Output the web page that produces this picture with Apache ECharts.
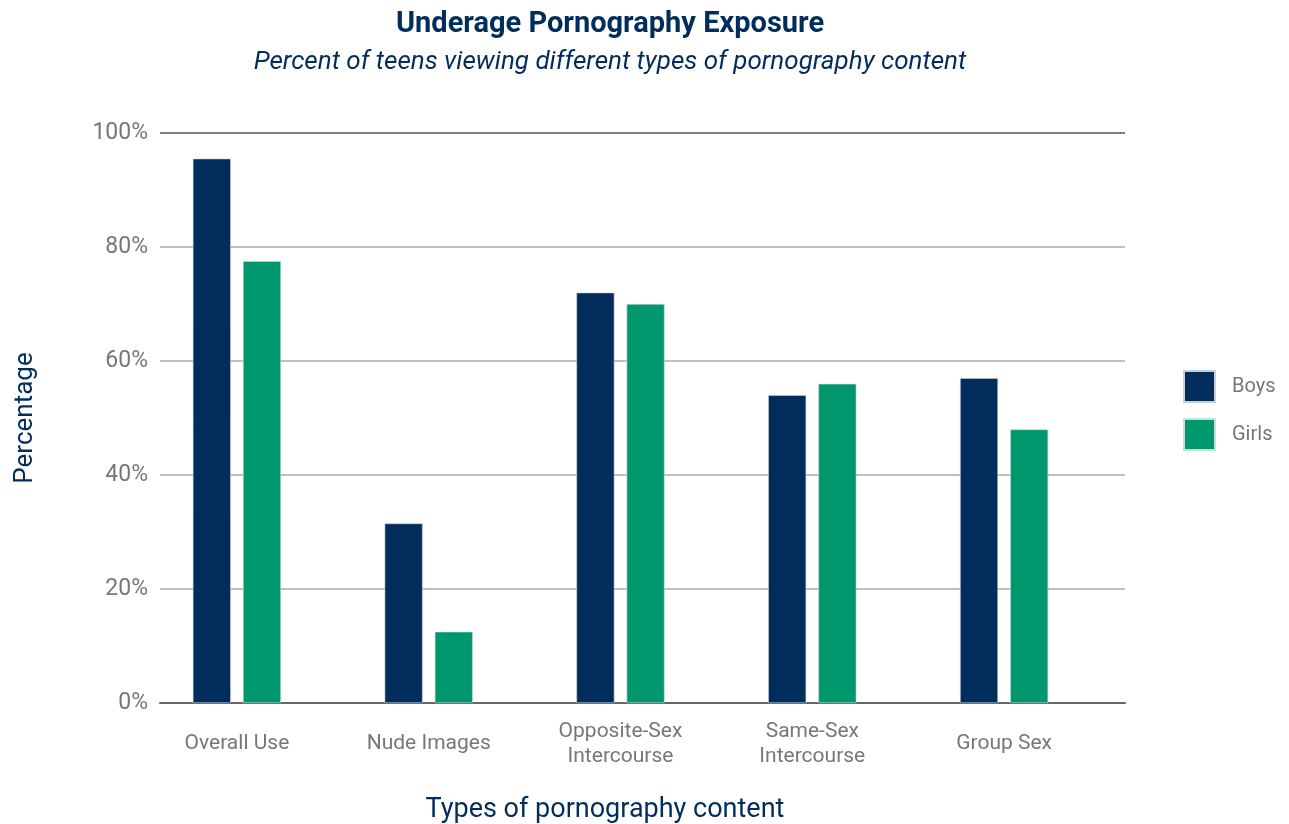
<!DOCTYPE html>
<html>
<head>
<meta charset="utf-8">
<script src="https://cdn.jsdelivr.net/npm/echarts@6/dist/echarts.min.js"></script>
<style>
  html, body { margin: 0; padding: 0; background: #fff; }
  #chart { width: 1289px; height: 824px; }
</style>
</head>
<body>
<div id="chart"></div>
<script>
// data
var categories = ['Overall Use', 'Nude Images', 'Opposite-Sex\nIntercourse', 'Same-Sex\nIntercourse', 'Group Sex'];
var boys = [95.5, 31.5, 72, 54, 57];
var girls = [77.5, 12.5, 70, 56, 48];
var yTicks = [0, 20, 40, 60, 80, 100];

var navy = '#002d5c';
var green = '#00976f';

var chart = echarts.init(document.getElementById('chart'));

chart.setOption({
  animation: false,
  textStyle: { fontFamily: 'Roboto, "Noto Sans", sans-serif' },
  title: {
    text: 'Underage Pornography Exposure',
    subtext: 'Percent of teens viewing different types of pornography content',
    left: 605,
    textAlign: 'center',
    top: 5,
    itemGap: 10,
    textStyle: { color: navy, fontSize: 29, fontWeight: 'bold' },
    subtextStyle: { color: navy, fontSize: 26, fontStyle: 'italic' }
  },
  legend: {
    orient: 'vertical',
    left: 1178,
    top: 365,
    itemWidth: 31,
    itemHeight: 31,
    itemGap: 15,
    icon: 'rect',
    textStyle: { color: '#777', fontSize: 20, padding: [0, 0, 0, 12] },
    data: ['Boys', 'Girls']
  },
  // grid 0 carries the gridlines, grid 1 the bars
  grid: [
    { left: 160, right: 164, top: 133, bottom: 121, outerBoundsMode: 'none' },
    { left: 141, width: 959, top: 133, bottom: 121, outerBoundsMode: 'none' }
  ],
  xAxis: [
    {
      type: 'category',
      gridIndex: 0,
      data: categories,
      axisTick: { show: false },
      axisLabel: { show: false },
      axisLine: { lineStyle: { color: '#666', width: 2 } }
    },
    {
      type: 'category',
      gridIndex: 1,
      data: categories,
      name: 'Types of pornography content',
      nameLocation: 'middle',
      nameGap: 94,
      nameTextStyle: { color: navy, fontSize: 27, padding: [0, 31, 0, 0] },
      axisTick: { show: false },
      axisLine: { show: false },
      axisLabel: {
        color: '#777',
        fontSize: 21,
        lineHeight: 25,
        margin: 41,
        verticalAlign: 'middle',
        interval: 0
      }
    }
  ],
  yAxis: [
    {
      type: 'value',
      gridIndex: 0,
      min: yTicks[0],
      max: yTicks[yTicks.length - 1],
      interval: 20,
      name: 'Percentage',
      nameLocation: 'middle',
      nameGap: 122,
      nameTextStyle: { color: navy, fontSize: 26 },
      axisLine: { show: false },
      axisTick: { show: false },
      axisLabel: { color: '#777', fontSize: 23, margin: 12, formatter: '{value}%' },
      splitLine: { lineStyle: { color: ['#666', '#aaa', '#aaa', '#aaa', '#aaa', '#555'], width: 1.5 } }
    },
    {
      type: 'value',
      gridIndex: 1,
      min: yTicks[0],
      max: yTicks[yTicks.length - 1],
      interval: 20,
      show: false
    }
  ],
  series: [
    {
      name: 'Boys',
      type: 'bar',
      xAxisIndex: 1,
      yAxisIndex: 1,
      data: boys,
      barWidth: 38,
      barGap: '32%',
      itemStyle: { color: navy, borderColor: '#c8d0dc', borderWidth: 0.6 }
    },
    {
      name: 'Girls',
      type: 'bar',
      xAxisIndex: 1,
      yAxisIndex: 1,
      data: girls,
      barWidth: 38,
      itemStyle: { color: green, borderColor: '#bfe3d6', borderWidth: 0.6 }
    }
  ]
});
</script>
</body>
</html>
